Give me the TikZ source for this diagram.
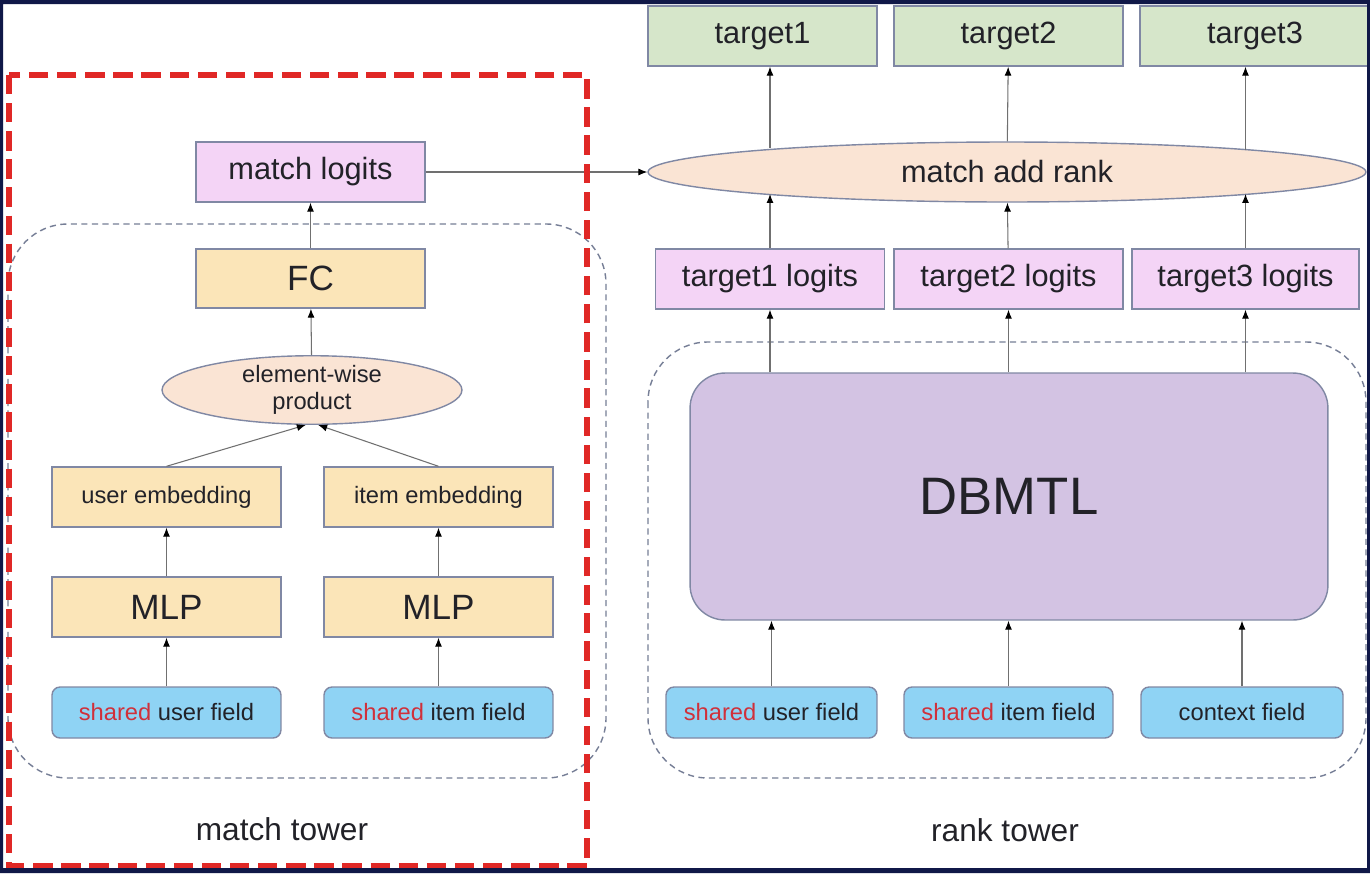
\documentclass[tikz,border=0pt]{standalone}
\usepackage{fontspec}
\setmainfont{Liberation Sans}
\usetikzlibrary{shapes.geometric, arrows.meta, calc}
\definecolor{frame}{RGB}{16,24,72}
\definecolor{dashred}{RGB}{224,40,38}
\definecolor{boxline}{RGB}{128,136,164}
\definecolor{ink}{RGB}{34,34,40}
\definecolor{logitpink}{RGB}{244,212,246}
\definecolor{mlpyellow}{RGB}{251,229,184}
\definecolor{targetgreen}{RGB}{214,230,202}
\definecolor{fieldblue}{RGB}{143,211,244}
\definecolor{ovalpeach}{RGB}{250,228,212}
\definecolor{dbmtlviolet}{RGB}{211,195,227}
\definecolor{linegray}{RGB}{112,112,112}
\definecolor{groupgray}{RGB}{118,126,150}
\definecolor{sharedred}{RGB}{208,48,58}
\tikzset{
  box/.style={draw=boxline, line width=0.8pt, minimum width=4.58cm, minimum height=1.2cm,
      inner sep=0pt, text=ink, font=\fontsize{17.5}{20}\selectfont},
  logitbox/.style={box, fill=logitpink},
  yellowbox/.style={box, fill=mlpyellow},
  targetbox/.style={box, fill=targetgreen},
  fieldbox/.style={box, fill=fieldblue, rounded corners=0.16cm, minimum height=1.02cm,
      font=\fontsize{13.5}{16}\selectfont},
  oval/.style={ellipse, draw=boxline, line width=0.8pt, fill=ovalpeach, inner sep=0pt, text=ink},
  arr/.style={-{Latex[length=1.8mm, width=1.4mm, color=black]}, draw=linegray, line width=0.6pt},
  group/.style={draw=groupgray, line width=0.8pt, dash pattern=on 3.5pt off 2.5pt, rounded corners=1.2cm},
  caption/.style={text=ink, font=\fontsize{18}{21}\selectfont},
}
\begin{document}
\begin{tikzpicture}[x=0.02cm, y=-0.02cm]
  \useasboundingbox (0,0) rectangle (1370,873);
  \fill[white] (0,0) rectangle (1370,873);

  % match tower
  \draw[group] (8,224) rectangle (606,778);
  \node[logitbox] (matchlogits) at (310.5,172) {match logits};
  \node[yellowbox, minimum height=1.18cm, font=\fontsize{20}{23}\selectfont] (fc) at (310.5,278.5) {FC};
  \node[oval, minimum width=6cm, minimum height=1.12cm, align=center,
    font=\fontsize{13.5}{15}\selectfont] (prod) at (312,390) {element-wise\\product};
  \node[yellowbox, font=\fontsize{13.5}{16}\selectfont] (uemb) at (166.5,497) {user embedding};
  \node[yellowbox, font=\fontsize{13.5}{16}\selectfont] (iemb) at (438.5,497) {item embedding};
  \node[yellowbox, font=\fontsize{20}{23}\selectfont] (umlp) at (166.5,607) {MLP};
  \node[yellowbox, font=\fontsize{20}{23}\selectfont] (imlp) at (438.5,607) {MLP};
  \node[fieldbox] (ufield) at (166.5,712.5) {\textcolor{sharedred}{shared} user field};
  \node[fieldbox] (ifield) at (438.5,712.5) {\textcolor{sharedred}{shared} item field};
  \node[caption] (matchtower) at (282,829) {match tower};

  \draw[arr] (fc) -- (matchlogits);
  \draw[arr] (prod) -- (fc);
  \draw[arr] (uemb.north) -- (prod.-100);
  \draw[arr] (iemb.north) -- (prod.-80);
  \draw[arr] (umlp) -- (uemb);
  \draw[arr] (imlp) -- (iemb);
  \draw[arr] (ufield) -- (umlp);
  \draw[arr] (ifield) -- (imlp);

  % rank tower
  \draw[group] (648,342) rectangle (1366,778);
  \node[targetbox] (t1) at (762.5,36) {target1};
  \node[targetbox] (t2) at (1008.5,36) {target2};
  \node[targetbox, minimum width=4.6cm] (t3) at (1255,36) {target3};
  \node[oval, minimum width=14.36cm, minimum height=1.2cm,
    font=\fontsize{17.5}{20}\selectfont] (rank) at (1007,172) {match add rank};
  \node[logitbox] (l1) at (770,279) {target1 logits};
  \node[logitbox] (l2) at (1008.5,279) {target2 logits};
  \node[logitbox, minimum width=4.54cm] (l3) at (1245.5,279) {target3 logits};
  \node[draw=boxline, line width=0.8pt, fill=dbmtlviolet, rounded corners=0.7cm,
    minimum width=12.76cm, minimum height=4.94cm, text=ink,
    font=\fontsize{30}{34}\selectfont] (dbmtl) at (1009,496.5) {DBMTL};
  \node[fieldbox, minimum width=4.22cm] (rfield1) at (771.5,712.5) {\textcolor{sharedred}{shared} user field};
  \node[fieldbox, minimum width=4.18cm] (rfield2) at (1008.5,712.5) {\textcolor{sharedred}{shared} item field};
  \node[fieldbox, minimum width=4.04cm] (rfield3) at (1242,712.5) {context field};
  \node[caption] (ranktower) at (1005,830) {rank tower};

  \draw[arr] (matchlogits.east) -- (rank.west);
  \draw[arr] (l1.north) -- (l1.north |- rank.185.4);
  \draw[arr] (l2) -- (rank);
  \draw[arr] (l3.north) -- (l3.north |- rank.-5.2);
  \draw[arr] (l1.north |- rank.174.6) -- (l1.north |- t1.south);
  \draw[arr] (rank) -- (t2);
  \draw[arr] (l3.north |- rank.5.2) -- (l3.north |- t3.south);
  \draw[arr] (l1.south |- dbmtl.north) -- (l1.south);
  \draw[arr] (l2.south |- dbmtl.north) -- (l2.south);
  \draw[arr] (l3.south |- dbmtl.north) -- (l3.south);
  \draw[arr] (rfield1) -- (rfield1 |- dbmtl.south);
  \draw[arr] (rfield2) -- (rfield2 |- dbmtl.south);
  \draw[arr] (rfield3) -- (rfield3 |- dbmtl.south);

  % red frame round the match tower
  \draw[dashred, line width=0.12cm, dash pattern=on 11pt off 5pt] (9,75) rectangle (587,866);
  % screen border
  \fill[frame, even odd rule] (0,0) rectangle (1370,873) (3,4) rectangle (1367,868);
\end{tikzpicture}
\end{document}
